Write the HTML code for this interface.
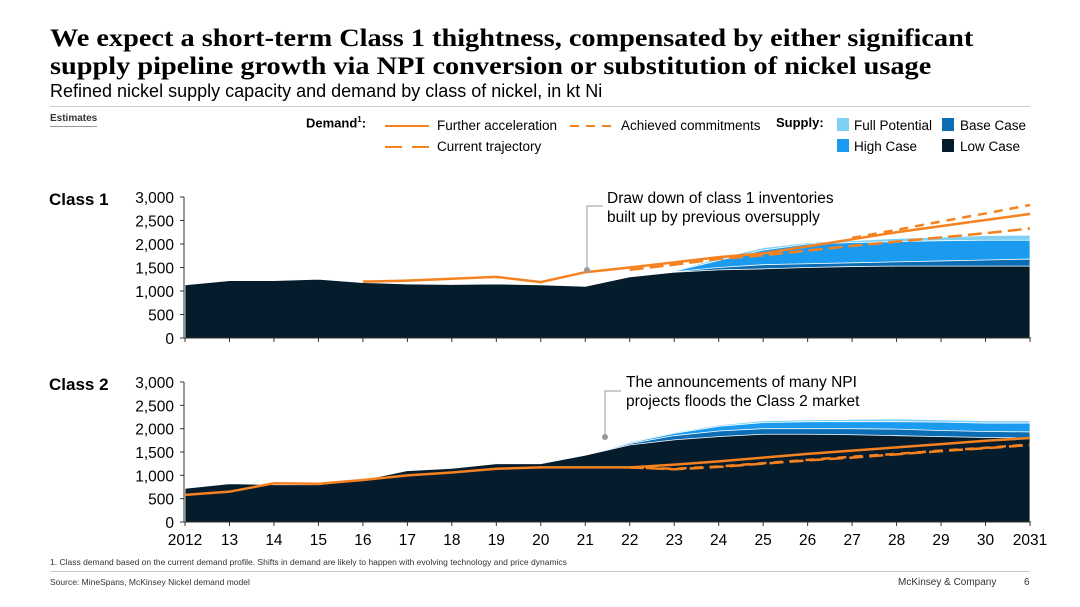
<!DOCTYPE html>
<html><head><meta charset="utf-8">
<style>
body{margin:0;width:1080px;height:607px;background:#fff;font-family:"Liberation Sans",sans-serif;overflow:hidden;position:relative}
.t{position:absolute;white-space:nowrap}
</style></head><body>
<div class="t" style="left:50px;top:24px;font-family:'Liberation Serif',serif;font-weight:bold;font-size:25.5px;line-height:28px;color:#000;transform:scaleX(1.11);transform-origin:0 0">We expect a short-term Class 1 thightness, compensated by either significant<br>supply pipeline growth via NPI conversion or substitution of nickel usage</div>
<div class="t" style="left:50px;top:81px;font-size:18px;color:#000">Refined nickel supply capacity and demand by class of nickel, in kt Ni</div>
<div style="position:absolute;left:50px;top:106px;width:980px;height:1px;background:#ccc"></div>
<svg id="c" width="1080" height="607" style="position:absolute;left:0;top:0"></svg>
<script>
const years=[2012,2013,2014,2015,2016,2017,2018,2019,2020,2021,2022,2023,2024,2025,2026,2027,2028,2029,2030,2031];
const xTicks=["2012","13","14","15","16","17","18","19","20","21","22","23","24","25","26","27","28","29","30","2031"];
const yTicks=[0,500,1000,1500,2000,2500,3000];
// Class 1
const c1Low=[1130,1220,1220,1250,1180,1150,1140,1150,1130,1100,1300,1400,1450,1470,1500,1520,1530,1530,1530,1530];
const c1Base=[1130,1220,1220,1250,1180,1150,1140,1150,1130,1100,1300,1410,1500,1560,1580,1600,1620,1640,1660,1680];
const c1High=[1130,1220,1220,1250,1180,1150,1140,1150,1130,1100,1300,1420,1650,1870,2000,2030,2050,2070,2080,2080];
const c1Full=[1130,1220,1220,1250,1180,1150,1140,1150,1130,1100,1300,1430,1700,1920,2030,2070,2120,2150,2180,2190];
const c1Further=[null,null,null,null,1200,1220,1260,1300,1190,1400,1500,1610,1720,1800,1950,2100,2250,2380,2510,2640];
const c1Current=[null,null,null,null,null,null,null,null,null,null,1450,1560,1680,1760,1860,1960,2050,2140,2230,2330];
const c1Achieved=[null,null,null,null,null,null,null,null,null,null,null,null,null,null,null,2130,2300,2480,2650,2830];
// Class 2
const c2Low=[720,820,800,800,900,1100,1150,1250,1250,1430,1650,1760,1830,1880,1880,1870,1850,1830,1810,1800];
const c2Base=[720,820,800,800,900,1100,1150,1250,1250,1430,1680,1850,1950,2000,2000,2000,1990,1960,1940,1930];
const c2High=[720,820,800,800,900,1100,1150,1250,1250,1430,1700,1900,2050,2130,2150,2150,2150,2140,2120,2120];
const c2Full=[730,830,810,810,910,1110,1160,1260,1260,1440,1720,1920,2080,2170,2190,2200,2210,2190,2170,2170];
const c2Further=[580,650,830,820,900,1000,1060,1140,1170,1170,1170,1230,1300,1380,1460,1530,1600,1670,1740,1800];
const c2Current=[null,null,null,null,null,null,null,null,null,null,1170,1130,1180,1250,1320,1380,1450,1520,1580,1650];
const c2Achieved=[null,null,null,null,null,null,null,null,null,null,1170,1140,1190,1260,1330,1400,1460,1530,1590,1660];

const svg=document.getElementById('c');const NS='http://www.w3.org/2000/svg';
function mk(t,a,p){const e=document.createElementNS(NS,t);for(const k in a)e.setAttribute(k,a[k]);(p||svg).appendChild(e);return e;}
const x=i=>185+i*(845/19);
function panel(name,yTop,yBot,low,base,high,full,fur,cur,ach){
  const y=v=>yBot-(v/3000)*(yBot-yTop);
  const g=mk('g',{});
  
  
  function area(arr,col,n){let d='M'+x(0)+','+yBot;arr.forEach((v,i)=>d+='L'+x(i)+','+y(v));d+='L'+x(arr.length-1)+','+yBot+'Z';
    const p=mk('path',{d:d,fill:col,stroke:'#fff','stroke-width':0.8},g);
    
    }
  area(full,'#7fd0f5','full-potential');area(high,'#1a9bef','high-case');area(base,'#0b6db3','base-case');area(low,'#051c2c','low-case');
  function line(arr,dash,n){let d='';arr.forEach((v,i)=>{if(v==null)return;d+=(d?'L':'M')+x(i)+','+y(v);});
    const p=mk('path',{d:d,fill:'none',stroke:'#f5821f','stroke-width':2.5,'stroke-dasharray':dash},g);
    
    }
  line(fur,'none','further-acceleration');line(cur,'14,6','current-trajectory');line(ach,'9,7','achieved-commitments');
  const ax=mk('line',{x1:184,x2:184,y1:yTop,y2:yBot,stroke:'#333','stroke-width':1},g);
  
  yTicks.forEach(v=>{mk('line',{x1:180,x2:184,y1:y(v),y2:y(v),stroke:'#333'},g);
    const t=mk('text',{x:174,y:y(v)+6,'text-anchor':'end','font-size':15.5,fill:'#000'},g);t.textContent=v.toLocaleString('en-US');
    });
  const xa=mk('line',{x1:184,x2:1031,y1:yBot,y2:yBot,stroke:'#333'},g);
  
  years.forEach((yy,i)=>mk('line',{x1:x(i),x2:x(i),y1:yBot,y2:yBot+4,stroke:'#333'},g));
}
panel('class1',197,338,c1Low,c1Base,c1High,c1Full,c1Further,c1Current,c1Achieved);
panel('class2',382,522,c2Low,c2Base,c2High,c2Full,c2Further,c2Current,c2Achieved);
xTicks.forEach((s,i)=>{const t=mk('text',{x:x(i),y:545,'text-anchor':'middle','font-size':15.5,fill:'#000'});t.textContent=s;
  });
// annotations
mk('path',{d:'M587,270 L587,206 L603,206',fill:'none',stroke:'#999'});mk('circle',{cx:587,cy:270,r:3,fill:'#999'});
mk('path',{d:'M605,437 L605,391 L621,391',fill:'none',stroke:'#999'});mk('circle',{cx:605,cy:437,r:3,fill:'#999'});
</script>
<div class="t" style="left:49px;top:190px;font-weight:bold;font-size:17px">Class 1</div>
<div class="t" style="left:49px;top:375px;font-weight:bold;font-size:17px">Class 2</div>
<div class="t" style="left:607px;top:189px;font-size:15.5px;line-height:19px">Draw down of class 1 inventories<br>built up by previous oversupply</div>
<div class="t" style="left:626px;top:373px;font-size:15.5px;line-height:19px">The announcements of many NPI<br>projects floods the Class 2 market</div>
<div class="t" style="left:50px;top:113px;font-size:10px;font-weight:bold;color:#333;border-bottom:1px solid #999;padding-bottom:2px">Estimates</div>
<div class="t" style="left:306px;top:115px;font-size:13px;font-weight:bold">Demand<sup style="font-size:8px">1</sup>:</div>
<div style="position:absolute;left:385px;top:125px;width:44px;height:2px;background:#f5821f"></div>
<div class="t" style="left:437px;top:118px;font-size:13.5px">Further acceleration</div>
<div style="position:absolute;left:570px;top:125px;width:44px;height:2px;background:repeating-linear-gradient(90deg,#f5821f 0 9px,transparent 9px 16px)"></div>
<div class="t" style="left:621px;top:118px;font-size:13.5px">Achieved commitments</div>
<div style="position:absolute;left:385px;top:146px;width:44px;height:2px;background:repeating-linear-gradient(90deg,#f5821f 0 17px,transparent 17px 27px)"></div>
<div class="t" style="left:437px;top:139px;font-size:13.5px">Current trajectory</div>
<div class="t" style="left:776px;top:115px;font-size:13px;font-weight:bold">Supply:</div>
<div style="position:absolute;left:837px;top:118px;width:12px;height:13px;background:#7fd0f5"></div>
<div class="t" style="left:854px;top:118px;font-size:13.5px">Full Potential</div>
<div style="position:absolute;left:942px;top:118px;width:12px;height:13px;background:#0b6db3"></div>
<div class="t" style="left:960px;top:118px;font-size:13.5px">Base Case</div>
<div style="position:absolute;left:837px;top:139px;width:12px;height:13px;background:#1a9bef"></div>
<div class="t" style="left:854px;top:139px;font-size:13.5px">High Case</div>
<div style="position:absolute;left:942px;top:139px;width:12px;height:13px;background:#051c2c"></div>
<div class="t" style="left:960px;top:139px;font-size:13.5px">Low Case</div>
<div class="t" style="left:50px;top:557px;font-size:8.5px;color:#333">1. Class demand based on the current demand profile. Shifts in demand are likely to happen with evolving technology and price dynamics</div>
<div style="position:absolute;left:50px;top:571px;width:980px;height:1px;background:#ccc"></div>
<div class="t" style="left:50px;top:577px;font-size:8.5px;color:#333">Source: MineSpans, McKinsey Nickel demand model</div>
<div class="t" style="left:898px;top:577px;font-size:10px;color:#333">McKinsey &amp; Company</div>
<div class="t" style="left:1024px;top:577px;font-size:10px;color:#333">6</div>
</body></html>
